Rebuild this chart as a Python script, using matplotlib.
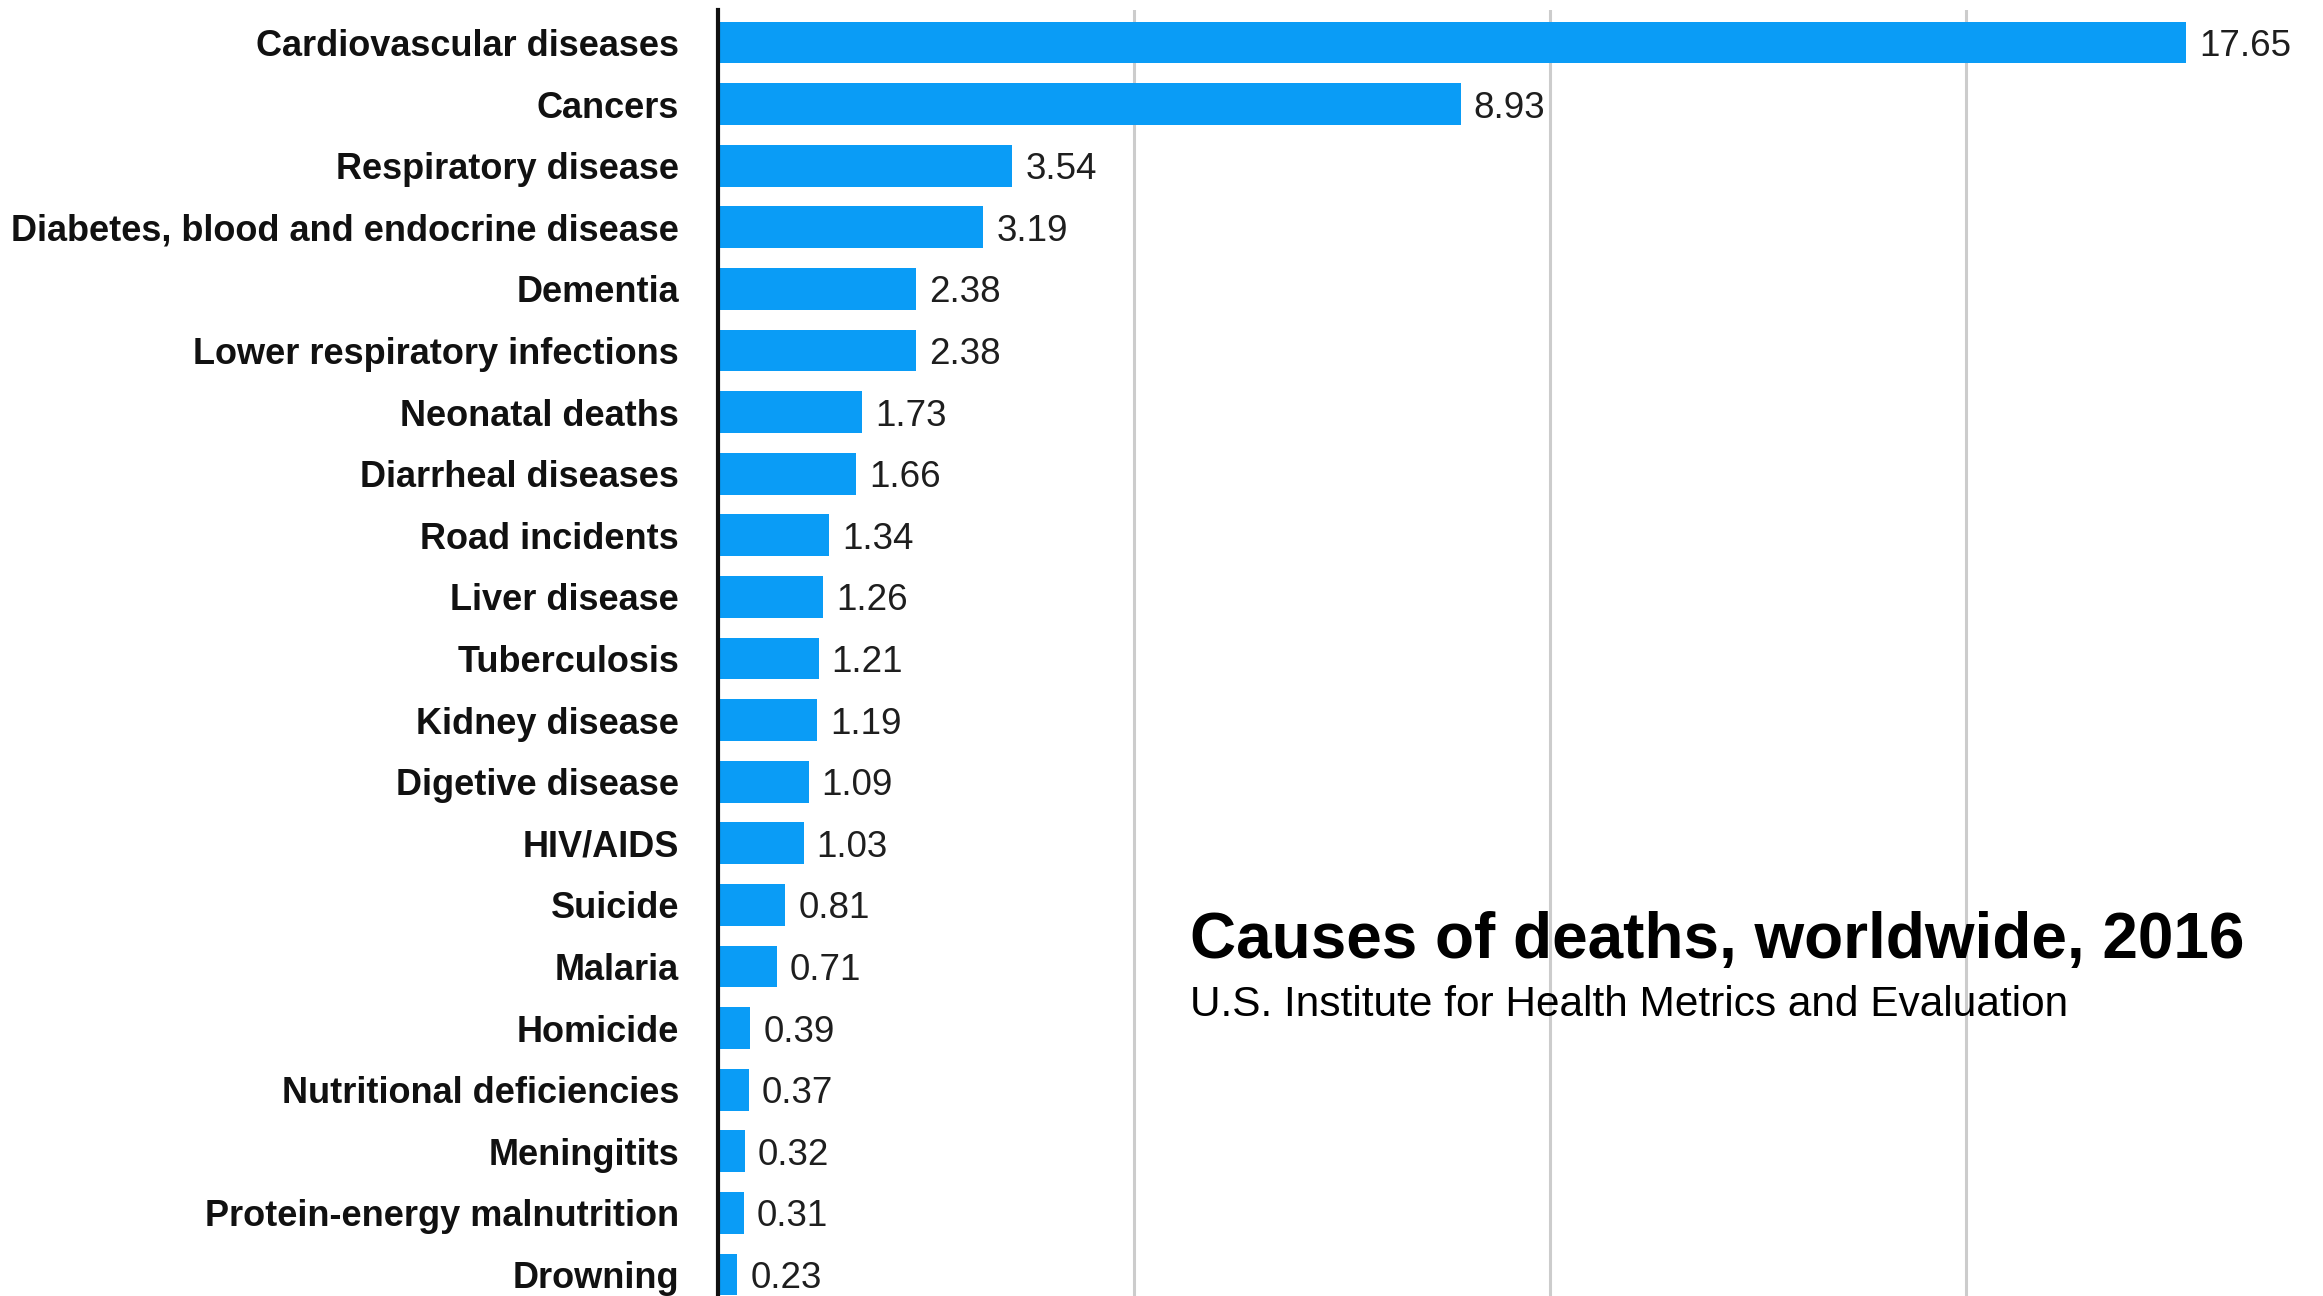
import matplotlib
matplotlib.use("Agg")
import matplotlib.pyplot as plt

causes = [
    "Cardiovascular diseases", "Cancers", "Respiratory disease",
    "Diabetes, blood and endocrine disease", "Dementia",
    "Lower respiratory infections", "Neonatal deaths", "Diarrheal diseases",
    "Road incidents", "Liver disease", "Tuberculosis", "Kidney disease",
    "Digetive disease", "HIV/AIDS", "Suicide", "Malaria", "Homicide",
    "Nutritional deficiencies", "Meningitits", "Protein-energy malnutrition",
    "Drowning",
]
deaths_millions = [
    17.65, 8.93, 3.54, 3.19, 2.38, 2.38, 1.73, 1.66, 1.34, 1.26, 1.21,
    1.19, 1.09, 1.03, 0.81, 0.71, 0.39, 0.37, 0.32, 0.31, 0.23,
]
grid_values = [5, 10, 15]

title = "Causes of deaths, worldwide, 2016"
subtitle = "U.S. Institute for Health Metrics and Evaluation"

plt.rcParams["font.family"] = ["Liberation Sans", "DejaVu Sans"]

W, H, DPI = 2323, 1296, 100
fig = plt.figure(figsize=(W / DPI, H / DPI), dpi=DPI)
fig.patch.set_facecolor("white")

left_px = 718
top_px = 10
ax = fig.add_axes([left_px / W, 0, 1 - left_px / W, (H - top_px) / H])

px_per_unit = 83.17
ax.set_xlim(0, (W - left_px) / px_per_unit)
row_px = 61.6
first_center = 42.5
ax.set_ylim((H - first_center) / row_px, -(first_center - top_px) / row_px)

ypos = list(range(len(causes)))
ax.barh(ypos, deaths_millions, height=0.68, color="#0a9cf6", zorder=2)

# value labels: digits centred vertically on each bar
for y, v in zip(ypos, deaths_millions):
    ax.text(v + 13 / px_per_unit, y + 13.5 / row_px, f"{v:.2f}",
            va="baseline", ha="left", fontsize=26.5, color="#1e1e1e",
            zorder=3)

ax.set_xticks(grid_values)
ax.xaxis.grid(True, color="#cccccc", linewidth=2.2, zorder=0)
ax.tick_params(axis="x", length=0, labelbottom=False)

ax.set_yticks(ypos)
ax.set_yticklabels(causes, fontsize=26, fontweight="bold", color="#111111")
ax.tick_params(axis="y", length=0, pad=28)

for s in ["top", "right", "bottom"]:
    ax.spines[s].set_visible(False)
ax.spines["left"].set_linewidth(3)
ax.spines["left"].set_color("#111111")
ax.spines["left"].set_zorder(4)

fig.text(1190 / W, 1 - 958 / H, title, fontsize=46, fontweight="bold",
         color="black", ha="left", va="baseline")
fig.text(1190 / W, 1 - 1016 / H, subtitle, fontsize=30.5,
         color="black", ha="left", va="baseline")

fig.savefig("out.png", dpi=DPI, facecolor="white")
